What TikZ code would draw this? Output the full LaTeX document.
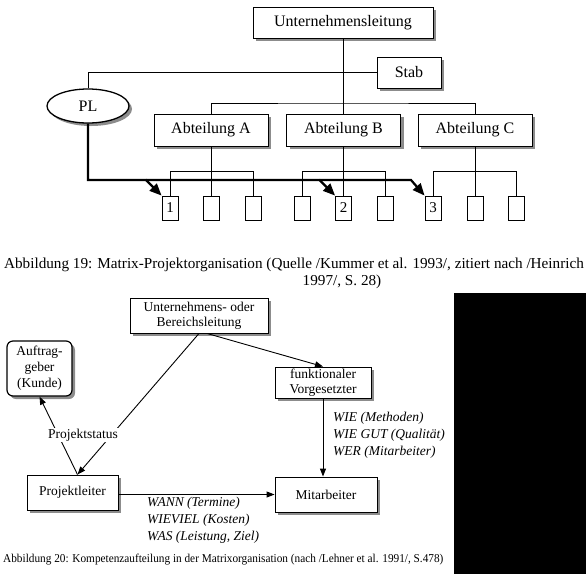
\documentclass[tikz,border=0pt]{standalone}
\usepackage{fontspec}
\setmainfont{Liberation Serif}
\usetikzlibrary{shapes,arrows.meta,calc,positioning,shadows}
\tikzset{
    semithick,
    shade/.style = {drop shadow={shadow xshift=3pt, shadow yshift=-3pt, fill=black!45, opacity=1}},
    unit/.style = {rectangle, draw, fill=white, inner sep=0pt, line width=0.9pt, shade, font=\fontsize{16}{18}\selectfont},
    leaf/.style = {rectangle, draw, fill=white, inner sep=0pt, line width=0.9pt, minimum width=16pt, minimum height=24pt, font=\fontsize{15}{17}\selectfont},
    role/.style = {rectangle, draw, fill=white, inner sep=0pt, line width=0.9pt, shade, align=center, font=\fontsize{13.5}{15}\selectfont},
    link/.style = {line width=0.9pt},
    plline/.style = {line width=2.2pt, -{Triangle[length=12pt,width=10pt]}},
    arr/.style = {line width=0.9pt, -{Triangle[length=8pt,width=6pt]}},
    task/.style = {inner sep=0pt, align=left, anchor=west, font=\fontsize{13.5}{17}\selectfont\itshape},
    caption/.style = {inner sep=0pt}
}
\begin{document}
\begin{tikzpicture}[x=1pt,y=-1pt]
\useasboundingbox (0,0) rectangle (586,574);
%% Matrix-Projektorganisation
    %%Nodes
    \node[unit, minimum width=180pt, minimum height=31pt] (ul) at (343,22.5) {Unternehmensleitung};
    \node[unit, minimum width=64pt, minimum height=31pt] (stab) at (409,72.5) {Stab};
    \node[unit, ellipse, line width=1.3pt, minimum width=82pt, minimum height=34pt] (pl) at (88,106) {PL};
    \node[unit, minimum width=114pt, minimum height=32pt] (abtA) at (211,130) {Abteilung A};
    \node[unit, minimum width=114pt, minimum height=32pt] (abtB) at (343.5,130) {Abteilung B};
    \node[unit, minimum width=114pt, minimum height=32pt] (abtC) at (475,130) {Abteilung C};

    \node[leaf] (a1) at (170,208) {1};
    \node[leaf] (a2) at (211,208) {};
    \node[leaf] (a3) at (253,208) {};
    \node[leaf] (b1) at (302,208) {};
    \node[leaf] (b2) at (343.5,208) {2};
    \node[leaf] (b3) at (385,208) {};
    \node[leaf] (c1) at (433,208) {3};
    \node[leaf] (c2) at (475,208) {};
    \node[leaf] (c3) at (516,208) {};

    \coordinate (abar) at (343,103);
    \coordinate (plturn) at (411,180);

    % Edges
    \draw[link] (ul.south) -- (ul.south |- abtB.north);
    \draw[link] (pl.north) |- (stab.west);
    \draw[link] (abtA.north) |- (abar) -| (abtC.north);
    \foreach \g/\abt in {a/abtA,b/abtB,c/abtC}{
        \draw[link] (\abt.south) -- (\g2.north);
        \draw[link] (\g1.north) -- ++(0,-24) -| (\g3.north);
    }

    % Projektleiter
    \draw[plline] (pl.south) |- (plturn) -- (c1.north west);
    \draw[plline] ($(a1.north west)+(-16,-16)$) -- (a1.north west);
    \draw[plline] ($(b2.north west)+(-16,-16)$) -- (b2.north west);

    \node[caption, font=\fontsize{15.2}{17}\selectfont] (cap19) at (294,265) {Abbildung 19: Matrix-Projektorganisation (Quelle /Kummer et al. 1993/, zitiert nach /Heinrich};
    \node[caption, font=\fontsize{15.2}{17}\selectfont] (cap19b) at (342,282) {1997/, S. 28)};

%% Kompetenzaufteilung
    %%Nodes
    \node[role, minimum width=138pt, minimum height=35pt] (ub) at (199,315.5) {Unternehmens- oder\\Bereichsleitung};
    \node[role, minimum width=65pt, minimum height=55pt, rounded corners=6pt, drop shadow={opacity=0}, line width=1.2pt, font=\fontsize{13.5}{16}\selectfont] (ag) at (39.5,368.5) {Auftrag-\\geber\\(Kunde)};
    \node[role, minimum width=96pt, minimum height=31pt] (fv) at (323,382.5) {funktionaler\\Vorgesetzter};
    \node[role, minimum width=91pt, minimum height=35pt] (pjl) at (72.5,492.5) {Projektleiter};
    \node[role, minimum width=102pt, minimum height=35pt] (mit) at (326,494.5) {Mitarbeiter};

    \coordinate (pjltop) at ($(pjl.north)+(5,0)$);

    % Directed edge
    \draw[arr] (pjltop) -- (ag.south);
    \draw[arr] (ub.south) -- (pjltop);
    \draw[arr] ($(ub.south)+(8,0)$) -- (fv.north);
    \draw[arr] (fv.south) -- (fv.south |- mit.north);
    \draw[arr] (pjl.east |- mit.west) -- (mit.west);

    \node[fill=white, inner sep=1pt, font=\fontsize{13.5}{15}\selectfont] (status) at (83,435) {Projektstatus};
    \node[task] (wie) at (333,435) {WIE (Methoden)\\WIE GUT (Qualität)\\WER (Mitarbeiter)};
    \node[task] (wann) at (147,520) {WANN (Termine)\\WIEVIEL (Kosten)\\WAS (Leistung, Ziel)};

    \node[caption, anchor=west, font=\fontsize{12}{14}\selectfont] (cap20) at (3,560) {\scalebox{0.94}[1]{Abbildung 20: Kompetenzaufteilung in der Matrixorganisation (nach /Lehner et al. 1991/, S.478)}};

    \fill (454,293) rectangle (586,574);
\end{tikzpicture}
\end{document}
